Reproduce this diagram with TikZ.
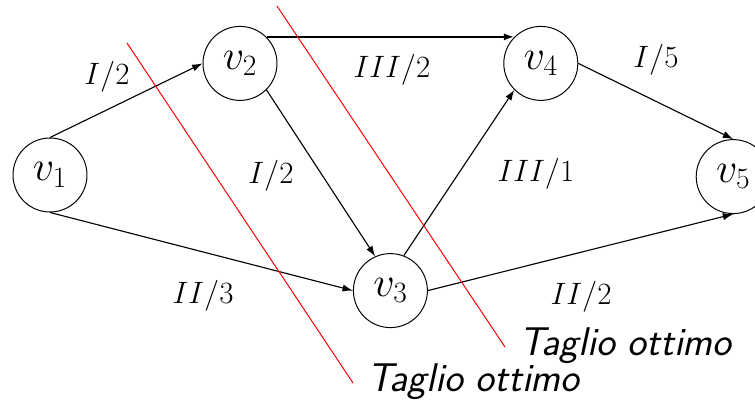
\RequirePackage{fix-cm}
\documentclass[tikz,border=0pt]{standalone}
\usepackage{amsmath,amssymb}
\usepackage{tikz}
\usetikzlibrary{arrows.meta,positioning,calc}

\begin{document}
\begin{tikzpicture}[scale=1.0,
  vx/.style={circle,draw,line width=0.7pt,minimum size=1.85cm,inner sep=0pt,
    font=\fontsize{30}{36}\selectfont},
  ar/.style={-{Latex[length=2.6mm,width=1.8mm]},line width=0.8pt},
  lab/.style={font=\fontsize{22}{26}\selectfont},
  cut/.style={red,line width=0.7pt},
  cutlab/.style={anchor=base west,inner sep=0pt,
    font=\fontsize{28.5}{32}\selectfont\sffamily\itshape}]

  \useasboundingbox (0,0) rectangle (18.875,10.125);

  % vertici
  \node[vx] (v1) at (1.25,5.75)  {$v_1$};
  \node[vx] (v2) at (6.0,8.54)   {$v_2$};
  \node[vx] (v3) at (9.76,2.86)  {$v_3$};
  \node[vx] (v4) at (13.52,8.54) {$v_4$};
  \node[vx] (v5) at (18.33,5.71) {$v_5$};

  % archi
  \draw[ar] (v1.north) -- (v2.west);
  \draw[ar,line width=1.6pt] (v2.north east) -- (v4.north west);
  \draw[ar] (v2.south east) -- (v3.114);
  \draw[ar] (v3.69) -- (v4.south west);
  \draw[ar] (v4.east) -- (v5.north);
  \draw[ar] (v1.south) -- (v3.west);
  \draw[ar] (v3.east) -- (v5.south);

  % etichette
  \node[lab] at (2.675,8.2)   {$I/2$};
  \node[lab] at (9.8,8.375)   {$III/2$};
  \node[lab] at (16.4,8.625)  {$I/5$};
  \node[lab] at (6.775,5.725) {$I/2$};
  \node[lab] at (13.4,5.775)  {$III/1$};
  \node[lab] at (5.075,2.725) {$II/3$};
  \node[lab] at (14.525,2.7)  {$II/2$};

  % tagli
  \coordinate (c1a) at (3.175,9.05);  \coordinate (c1b) at (8.825,0.55);
  \coordinate (c2a) at (6.925,9.975); \coordinate (c2b) at (12.625,1.45);
  \draw[cut] (c1a) -- (c1b);
  \draw[cut] (c2a) -- (c2b);
  \node[cutlab,xshift=0.35cm,yshift=-0.22cm] at (c1b) {Taglio ottimo};
  \node[cutlab,xshift=0.35cm,yshift=-0.2cm] at (c2b) {Taglio ottimo};
\end{tikzpicture}
\end{document}
